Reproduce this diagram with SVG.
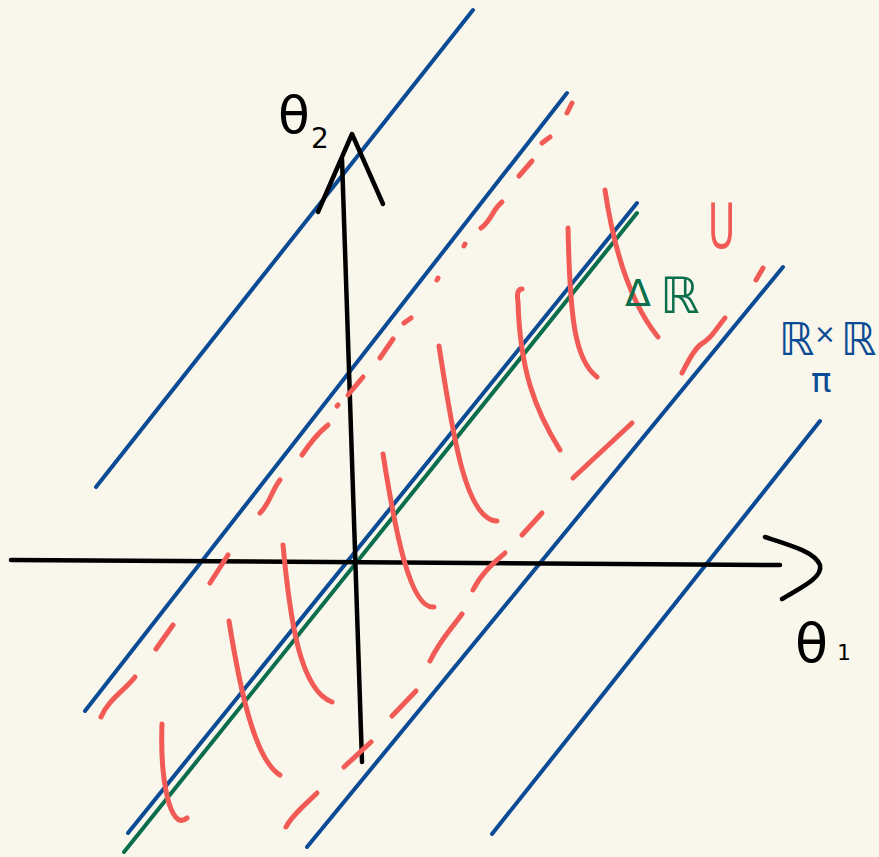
<svg xmlns="http://www.w3.org/2000/svg" width="879" height="857" viewBox="0 0 879 857">
<style>
.bl{stroke:#0b4a94;stroke-width:4;fill:none;stroke-linecap:round}
.gr{stroke:#0a6e4c;stroke-width:4;fill:none;stroke-linecap:round}
.ax{stroke:#000;stroke-width:4.5;fill:none;stroke-linecap:round;stroke-linejoin:round}
.rd{stroke:#f25a56;stroke-width:5;fill:none;stroke-linecap:round;stroke-linejoin:round}
.t{font-family:"DejaVu Sans","Liberation Sans",sans-serif}
</style>
<rect width="879" height="857" fill="#f9f7eb"/>
<g id="blue-lines">
<line class="bl" x1="96" y1="487" x2="473" y2="10"/>
<line class="bl" x1="85" y1="711" x2="567" y2="93"/>
<line class="bl" x1="128" y1="833" x2="637" y2="203"/>
<line class="bl" x1="307" y1="847" x2="783" y2="267"/>
<line class="bl" x1="492" y1="834" x2="820" y2="421"/>
</g>
<g id="green-line">
<line class="gr" x1="124" y1="852" x2="637" y2="213"/>
</g>
<g id="axes">
<path class="ax" d="M11,560 L780,565"/>
<path class="ax" d="M765,537 C790,545 815,552 820,565 C823,578 800,588 782,599"/>
<path class="ax" d="M342,159 L362,762"/>
<path class="ax" d="M318,212 L352,134 L383,204"/>
</g>
<g id="hatching">
<path class="rd" d="M605,190 Q620,290 658,337"/>
<path class="rd" d="M568,228 C570,320 575,360 597,377"/>
<path class="rd" d="M522,289 Q516,289 518,302 C520,370 535,410 560,450"/>
<path class="rd" d="M439,346 C452,430 465,520 497,521"/>
<path class="rd" d="M383,454 C395,530 410,610 434,607"/>
<path class="rd" d="M283,545 C290,620 300,690 332,702"/>
<path class="rd" d="M229,621 C240,690 255,760 280,775"/>
<path class="rd" d="M162,724 C160,780 170,832 187,818"/>
</g>
<g id="upper-dashes">
<path class="rd" d="M572,103 L567,113"/>
<path class="rd" d="M550,137 L542,143"/>
<path class="rd" d="M532,161 L519,176"/>
<path class="rd" d="M502,202 C492,210 492,220 481,228"/>
<path class="rd" d="M465,244 L464,246"/>
<path class="rd" d="M438,278 L437,280"/>
<path class="rd" d="M411,318 L404,323"/>
<path class="rd" d="M393,339 L380,358"/>
<path class="rd" d="M363,377 L348,395"/>
<path class="rd" d="M338,405 L337,406"/>
<path class="rd" d="M328,425 C318,433 310,443 302,455"/>
<path class="rd" d="M280,480 C272,490 270,503 260,513"/>
<path class="rd" d="M228,555 L210,583"/>
<path class="rd" d="M173,625 L156,649"/>
<path class="rd" d="M135,677 C125,690 108,700 101,717"/>
</g>
<g id="lower-dashes">
<path class="rd" d="M763,268 L756,280"/>
<path class="rd" d="M725,318 C715,330 712,338 700,345 C692,352 688,362 682,373"/>
<path class="rd" d="M632,423 L573,478"/>
<path class="rd" d="M542,513 L522,535"/>
<path class="rd" d="M505,553 C495,562 482,572 473,590"/>
<path class="rd" d="M462,614 C452,628 440,640 430,661"/>
<path class="rd" d="M416,691 L392,716"/>
<path class="rd" d="M371,742 L344,767"/>
<path class="rd" d="M317,793 C305,805 292,815 286,827"/>
</g>
<g id="labels">
<text class="t" x="278" y="133" font-size="52" fill="#000">θ</text>
<text class="t" x="311" y="148" font-size="28" fill="#000">2</text>
<text class="t" x="795" y="662" font-size="54" fill="#000">θ</text>
<text class="t" x="837" y="660" font-size="22" fill="#000">1</text>
<text class="t" x="625" y="306" font-size="38" fill="#0a6e4c">Δ</text>
<text class="t" x="660" y="313" font-size="50" fill="#0a6e4c">ℝ</text>
<text class="t" x="779" y="355" font-size="45" fill="#0b4a94">ℝ</text>
<text class="t" x="814" y="343" font-size="26" fill="#0b4a94">×</text>
<text class="t" x="841" y="355" font-size="45" fill="#0b4a94">ℝ</text>
<text class="t" x="811" y="392" font-size="34" fill="#0b4a94">π</text>
<text class="t" x="708" y="248" font-size="62" fill="#f25a56" transform="translate(708 248) scale(0.6 1) translate(-708 -248)">U</text>
</g>
</svg>
